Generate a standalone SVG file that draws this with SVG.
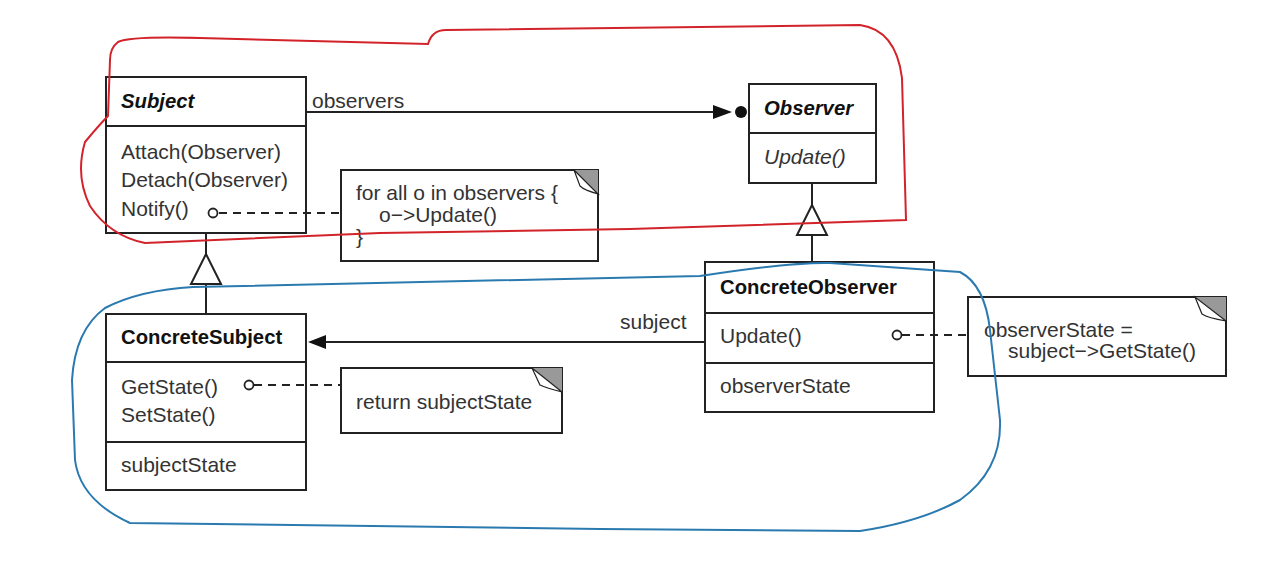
<svg xmlns="http://www.w3.org/2000/svg" width="1261" height="572" viewBox="0 0 1261 572">
<style>
.box{fill:#fff;stroke:#222;stroke-width:2}
.div{stroke:#222;stroke-width:2}
.t{font-family:"Liberation Sans",Arial,sans-serif;font-size:21px;fill:#333}
.b{font-weight:bold;fill:#111;font-size:20.3px}
.i{font-style:italic}
.ln{stroke:#222;stroke-width:2;fill:none}
.dash{stroke:#222;stroke-width:2;fill:none;stroke-dasharray:8 6}
.dot{fill:#fff;stroke:#222;stroke-width:1.8}
.fold{fill:#999;stroke:none}
.flap{fill:#fff;stroke:#222;stroke-width:1.2}
.tri{fill:#fff;stroke:#222;stroke-width:2}
</style>
<rect width="1261" height="572" fill="#fff"/>
<g id="Subject">
  <rect class="box" x="106" y="77" width="200" height="156"/>
  <line class="div" x1="106" y1="126" x2="306" y2="126"/>
  <text class="t b i" x="121" y="108">Subject</text>
  <text class="t" x="121" y="159">Attach(Observer)</text>
  <text class="t" x="121" y="187">Detach(Observer)</text>
  <text class="t" x="121" y="216">Notify()</text>
</g>
<g id="Observer">
  <rect class="box" x="749" y="84" width="127" height="99"/>
  <line class="div" x1="749" y1="133" x2="876" y2="133"/>
  <text class="t b i" x="764" y="115">Observer</text>
  <text class="t i" x="764" y="164">Update()</text>
</g>
<g id="ConcreteSubject">
  <rect class="box" x="106" y="314" width="200" height="176"/>
  <line class="div" x1="106" y1="362" x2="306" y2="362"/>
  <line class="div" x1="106" y1="442" x2="306" y2="442"/>
  <text class="t b" x="121" y="344">ConcreteSubject</text>
  <text class="t" x="121" y="394">GetState()</text>
  <text class="t" x="121" y="422">SetState()</text>
  <text class="t" x="121" y="472">subjectState</text>
</g>
<g id="ConcreteObserver">
  <rect class="box" x="705" y="262" width="229" height="150"/>
  <line class="div" x1="705" y1="313" x2="934" y2="313"/>
  <line class="div" x1="705" y1="363" x2="934" y2="363"/>
  <text class="t b" x="720" y="294">ConcreteObserver</text>
  <text class="t" x="720" y="343">Update()</text>
  <text class="t" x="720" y="393">observerState</text>
</g>
<g id="NoteNotify">
  <rect class="box" x="341" y="170" width="257" height="91"/>
  <polygon class="fold" points="574,170 598,170 598,194"/>
  <path class="flap" d="M574,170 L580,186 Q584,190 598,194 Z"/>
  <text class="t" x="356" y="200">for all o in observers {</text>
  <text class="t" x="379" y="222">o−&gt;Update()</text>
  <text class="t" x="356" y="244">}</text>
</g>
<g id="NoteGetState">
  <rect class="box" x="341" y="368" width="221" height="65"/>
  <polygon class="fold" points="532,368 562,368 562,392"/>
  <path class="flap" d="M532,368 L540,385 Q546,388 562,392 Z"/>
  <text class="t" x="356" y="409">return subjectState</text>
</g>
<g id="NoteUpdate">
  <rect class="box" x="968" y="297" width="258" height="79"/>
  <polygon class="fold" points="1195,297 1226,297 1226,321"/>
  <path class="flap" d="M1195,297 L1202,314 Q1208,318 1226,321 Z"/>
  <text class="t" x="984" y="337">observerState =</text>
  <text class="t" x="1008" y="358">subject−&gt;GetState()</text>
</g>
<g id="connectors">
  <line class="ln" x1="306" y1="112" x2="714" y2="112"/>
  <polygon points="713,105 732,112 713,119" fill="#111"/>
  <circle cx="741" cy="112" r="6" fill="#111"/>
  <text class="t" x="312" y="108">observers</text>
  <line class="ln" x1="812" y1="183" x2="812" y2="205"/>
  <polygon class="tri" points="812,205 827,235 797,235"/>
  <line class="ln" x1="812" y1="235" x2="812" y2="262"/>
  <line class="ln" x1="206" y1="233" x2="206" y2="254"/>
  <polygon class="tri" points="206,254 221,284 191,284"/>
  <line class="ln" x1="206" y1="284" x2="206" y2="314"/>
  <line class="ln" x1="705" y1="342" x2="325" y2="342"/>
  <polygon points="308,342 326,335 326,349" fill="#111"/>
  <text class="t" x="620" y="329">subject</text>
  <line class="dash" x1="219" y1="213" x2="341" y2="213"/>
  <circle class="dot" cx="213" cy="213" r="4.5"/>
  <line class="dash" x1="254" y1="385" x2="341" y2="385"/>
  <circle class="dot" cx="249" cy="385" r="4.5"/>
  <line class="dash" x1="902" y1="335" x2="968" y2="335"/>
  <circle class="dot" cx="897" cy="335" r="4.5"/>
</g>
<g id="annotations" fill="none" stroke-width="2">
  <path stroke="#d2232a" d="M118,42 Q130,36 200,38 L428,44 Q432,30 446,30 L860,25 Q896,30 902,78 L906,220 L630,229 L380,233 L145,243 Q110,236 90,206 Q75,176 85,142 Q100,124 108,116 L110,60 Q110,48 118,42 Z"/>
  <path stroke="#2a7ab0" d="M193,287 L700,276 Q790,262 830,263 L960,272 Q985,285 990,330 L1000,420 Q1002,470 960,500 Q920,522 860,531 L600,529 L130,523 Q80,500 75,460 L72,380 Q75,330 105,308 Q140,290 193,287 Z"/>
</g>
</svg>
